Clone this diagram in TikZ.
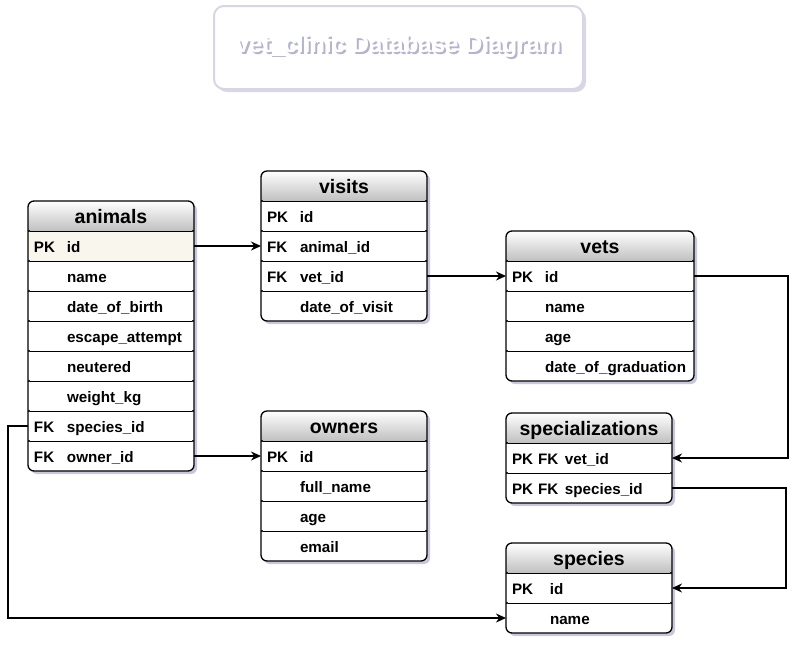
\documentclass[tikz,border=0pt]{standalone}
\usepackage{fontspec}
\setmainfont{Liberation Sans}
\usetikzlibrary{positioning, arrows.meta, shadows, backgrounds}

\definecolor{idfill}{RGB}{249,246,237}
\definecolor{titleline}{RGB}{214,214,228}
\definecolor{titleshade}{RGB}{180,180,204}

\newcommand{\tblfield}[3][33pt]{\makebox[#1][l]{#2}#3}

\begin{document}
\begin{tikzpicture}[
		x=1pt, y=-1pt,
		tblhead/.style={rectangle, inner sep=0pt, outer sep=0pt, minimum width=#1, minimum height=30pt, anchor=north west, text height=17pt, text depth=3pt, font=\fontsize{19.5}{22}\selectfont\bfseries},
		tblhead/.default=166pt,
		tblrow/.style={rectangle, inner xsep=6pt, inner ysep=0pt, outer sep=0pt, text width=#1, minimum height=30pt, text height=14pt, text depth=2pt, align=left, font=\fontsize{15.2}{17}\selectfont\bfseries},
		tblrow/.default=154pt,
		sep/.style={line width=0.8pt, {Circle[length=2pt]}-{Circle[length=2pt]}},
		tblframe/.style={draw, line width=1.3pt, rounded corners=6pt},
		tblshadow/.style={fill=white, rounded corners=6pt, drop shadow={shadow xshift=3pt, shadow yshift=-3pt, fill=blue!25!gray, opacity=0.35}},
		titlebox/.style={rectangle, draw=titleline, fill=white, line width=2pt, rounded corners=10pt, minimum width=369pt, minimum height=83pt, drop shadow={shadow xshift=3pt, shadow yshift=-3pt, fill=blue!25!gray, opacity=0.25}, text=white, font=\fontsize{24}{28}\selectfont\bfseries},
		link/.style={-{Stealth[length=10pt, width=9pt]}, line width=1.5pt},
	]

	\useasboundingbox (0,0) rectangle (806,646);

	\node[titlebox, anchor=north west] (title) at (213,5) {\rlap{\color{titleshade}\raisebox{-2pt}{\hspace{2pt}vet\_clinic Database Diagram}}vet\_clinic Database Diagram};

	% tables
	\node[tblhead] (animals-head) at (28,201) {animals};
	\foreach \k/\c/\n [remember=\n as \p (initially head)] in {PK/id/id, /name/name, /date\_of\_birth/dob, /escape\_attempt/escape, /neutered/neutered, /weight\_kg/weight, FK/species\_id/species, FK/owner\_id/owner}{
		\node[tblrow, below=0pt of animals-\p] (animals-\n) {\tblfield{\k}{\c}};
		\draw[sep] (animals-\n.north west) -- (animals-\n.north east);
	}

	\node[tblhead] (visits-head) at (261,171) {visits};
	\foreach \k/\c/\n [remember=\n as \p (initially head)] in {PK/id/id, FK/animal\_id/animal, FK/vet\_id/vet, /date\_of\_visit/date}{
		\node[tblrow, below=0pt of visits-\p] (visits-\n) {\tblfield{\k}{\c}};
		\draw[sep] (visits-\n.north west) -- (visits-\n.north east);
	}

	\node[tblhead=188pt] (vets-head) at (506,231) {vets};
	\foreach \k/\c/\n [remember=\n as \p (initially head)] in {PK/id/id, /name/name, /age/age, /date\_of\_graduation/grad}{
		\node[tblrow=176pt, below=0pt of vets-\p] (vets-\n) {\tblfield{\k}{\c}};
		\draw[sep] (vets-\n.north west) -- (vets-\n.north east);
	}

	\node[tblhead] (owners-head) at (261,411) {owners};
	\foreach \k/\c/\n [remember=\n as \p (initially head)] in {PK/id/id, /full\_name/name, /age/age, /email/email}{
		\node[tblrow, below=0pt of owners-\p] (owners-\n) {\tblfield{\k}{\c}};
		\draw[sep] (owners-\n.north west) -- (owners-\n.north east);
	}

	\node[tblhead] (specializations-head) at (506,413) {specializations};
	\foreach \k/\c/\n [remember=\n as \p (initially head)] in {PK FK/vet\_id/vet, PK FK/species\_id/species}{
		\node[tblrow, below=0pt of specializations-\p] (specializations-\n) {\tblfield[53pt]{\k}{\c}};
		\draw[sep] (specializations-\n.north west) -- (specializations-\n.north east);
	}

	\node[tblhead] (species-head) at (506,543) {species};
	\foreach \k/\c/\n [remember=\n as \p (initially head)] in {PK/id/id, /name/name}{
		\node[tblrow, below=0pt of species-\p] (species-\n) {\tblfield[38pt]{\k}{\c}};
		\draw[sep] (species-\n.north west) -- (species-\n.north east);
	}

	% frames, header shading
	\begin{pgfonlayer}{background}
		\foreach \tb/\lr in {animals/owner, visits/date, vets/grad, owners/email, specializations/species, species/name}{
			\path[tblshadow] (\tb-head.north west) rectangle (\tb-\lr.south east);
			\begin{scope}
				\clip[rounded corners=6pt] (\tb-head.north west) rectangle ([yshift=-10pt]\tb-head.south east);
				\shade[top color=white, bottom color=black!25] (\tb-head.north west) rectangle (\tb-head.south east);
			\end{scope}
		}
		\fill[idfill] (animals-id.north west) rectangle (animals-id.south east);
	\end{pgfonlayer}

	\foreach \tb/\lr in {animals/owner, visits/date, vets/grad, owners/email, specializations/species, species/name}
		\draw[tblframe] (\tb-head.north west) rectangle (\tb-\lr.south east);

	% relations
	\foreach \i/\j in {animals-id/visits-animal, visits-vet/vets-id, animals-owner/owners-id}
		\draw[link] (\i.east) -- (\j.west);

	\draw[link] (vets-id.east) -- ++(94,0) |- (specializations-vet.east);
	\draw[link] (specializations-species.east) -- ++(114,0) |- (species-id.east);
	\draw[link] (animals-species.west) -- ++(-20,0) |- (species-name.west);

\end{tikzpicture}
\end{document}
